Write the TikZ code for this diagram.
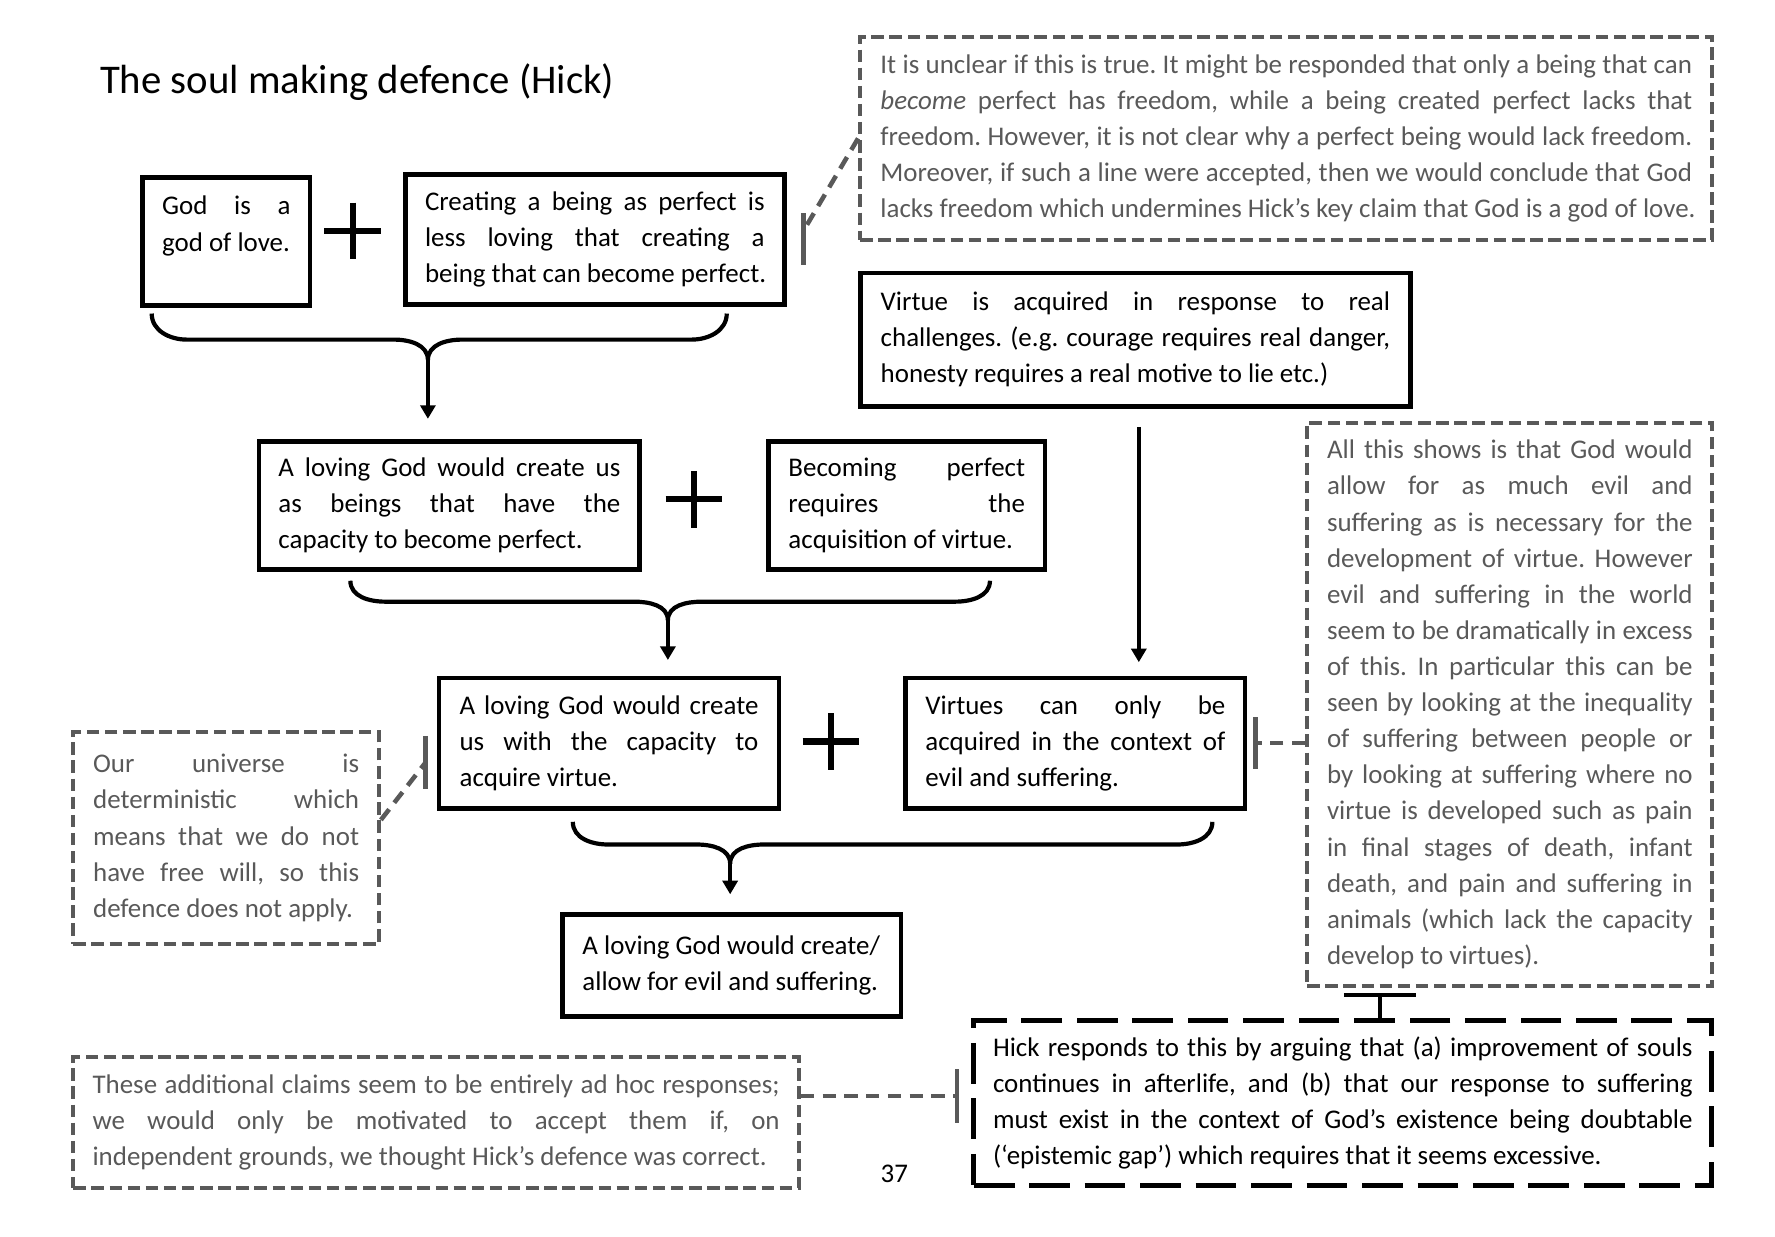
\documentclass[tikz,border=0pt]{standalone}
\usepackage{fontspec}
\setmainfont{Carlito}
\usetikzlibrary{arrows.meta,calc}
\definecolor{cg}{RGB}{89,89,89}
\frenchspacing
\newcommand\bodyfont{\fontsize{11.9pt}{15.95pt}\selectfont}
\newcommand\jline[2]{\makebox[#1][s]{\spaceskip=0pt\xspaceskip=0pt\frenchspacing\relax #2}}
\newcommand\lline[1]{\mbox{\spaceskip=0pt\xspaceskip=0pt\frenchspacing\relax #1}}
\newcommand\plussign[2]{\draw[plus] (#1-25,#2) -- (#1+25,#2) (#1,#2-25) -- (#1,#2+25);}
\begin{document}
\begin{tikzpicture}[x=0.5pt,y=-0.5pt,
  box/.style={draw=black, line width=2pt, inner sep=0pt, anchor=north west, align=left, font=\bodyfont},
  note/.style={draw=cg, text=cg, line width=1.75pt, dash pattern=on 5.5pt off 2.5pt, inner sep=0pt, anchor=north west, align=left, font=\bodyfont},
  hnote/.style={draw=black, line width=2.2pt, dash pattern=on 18pt off 6.5pt, inner sep=0pt, anchor=north west, align=left, font=\bodyfont},
  brace/.style={line width=1.85pt},
  arr/.style={line width=1.7pt, -{Triangle[width=6.6pt,length=6pt]}},
  gline/.style={draw=cg, line width=2pt, dash pattern=on 5.9pt off 3.7pt},
  gbar/.style={draw=cg, line width=2pt},
  tbar/.style={draw=black, line width=1.8pt},
  plus/.style={line width=2.75pt}
]
\useasboundingbox (0,0) rectangle (1568,1092);

% title
\node[anchor=base west, inner sep=0pt, font=\fontsize{18pt}{22pt}\selectfont] (title) at (88,82.5) {\lline{The soul making defence (Hick)}};

% boxes
\node[box, minimum width=74pt, minimum height=56.5pt, text width=56.8pt] (A) at (124,155)
 {\jline{56.8pt}{God is a}\\\lline{god of love.}\\\mbox{}};
\node[box, minimum width=167.5pt, minimum height=57.5pt, text width=150pt] (B) at (356,152)
 {\jline{150pt}{Creating a being as perfect is}\\\jline{150pt}{less loving that creating a}\\\lline{being that can become perfect.}};
\node[note, minimum width=376.5pt, minimum height=89.5pt, text width=358.5pt] (C1) at (758,31)
 {\jline{358.5pt}{It is unclear if this is true. It might be responded that only a being that can}\\
  \jline{358.5pt}{\emph{become} perfect has freedom, while a being created perfect lacks that}\\
  \jline{358.5pt}{freedom. However, it is not clear why a perfect being would lack freedom.}\\
  \jline{358.5pt}{Moreover, if such a line were accepted, then we would conclude that God}\\
  \lline{lacks freedom which undermines Hick’s key claim that God is a god of love.}};
\node[box, minimum width=243pt, minimum height=59pt, text width=225pt] (D) at (758,239)
 {\jline{225pt}{Virtue is acquired in response to real}\\\jline{225pt}{challenges. (e.g. courage requires real danger,}\\\lline{honesty requires a real motive to lie etc.)}};
\node[box, minimum width=168pt, minimum height=56.5pt, text width=151pt] (E) at (227,388)
 {\jline{151pt}{A loving God would create us}\\\jline{151pt}{as beings that have the}\\\lline{capacity to become perfect.}};
\node[box, minimum width=122pt, minimum height=56.5pt, text width=104.5pt] (F) at (677,388)
 {\jline{104.5pt}{Becoming perfect}\\\jline{104.5pt}{requires the}\\\lline{acquisition of virtue.}};
\node[note, minimum width=179pt, minimum height=248.5pt, text width=161.5pt] (C2) at (1153,372)
 {\jline{161.5pt}{All this shows is that God would}\\
  \jline{161.5pt}{allow for as much evil and}\\
  \jline{161.5pt}{suffering as is necessary for the}\\
  \jline{161.5pt}{development of virtue. However}\\
  \jline{161.5pt}{evil and suffering in the world}\\
  \jline{161.5pt}{seem to be dramatically in excess}\\
  \jline{161.5pt}{of this. In particular this can be}\\
  \jline{161.5pt}{seen by looking at the inequality}\\
  \jline{161.5pt}{of suffering between people or}\\
  \jline{161.5pt}{by looking at suffering where no}\\
  \jline{161.5pt}{virtue is developed such as pain}\\
  \jline{161.5pt}{in final stages of death, infant}\\
  \jline{161.5pt}{death, and pain and suffering in}\\
  \jline{161.5pt}{animals (which lack the capacity}\\
  \lline{develop to virtues).}};
\node[box, minimum width=150pt, minimum height=57.5pt, text width=132pt] (G) at (386,597)
 {\jline{132pt}{A loving God would create}\\\jline{132pt}{us with the capacity to}\\\lline{acquire virtue.}};
\node[box, minimum width=150pt, minimum height=57.5pt, text width=132.5pt] (H) at (798,597)
 {\jline{132.5pt}{Virtues can only be}\\\jline{132.5pt}{acquired in the context of}\\\lline{evil and suffering.}};
\node[note, minimum width=135pt, minimum height=93.5pt, text width=117.5pt] (C3) at (63,645)
 {\jline{117.5pt}{Our universe is}\\\jline{117.5pt}{deterministic which}\\\jline{117.5pt}{means that we do not}\\\jline{117.5pt}{have free will, so this}\\\lline{defence does not apply.}};
\node[box, minimum width=149.5pt, minimum height=45pt, text width=132pt] (I) at (495,806)
 {\lline{A loving God would create/}\\\lline{allow for evil and suffering.}};
\node[hnote, minimum width=326pt, minimum height=73pt, text width=309pt] (J) at (858,899)
 {\jline{309pt}{Hick responds to this by arguing that (a) improvement of souls}\\
  \jline{309pt}{continues in afterlife, and (b) that our response to suffering}\\
  \jline{309pt}{must exist in the context of God’s existence being doubtable}\\
  \lline{(‘epistemic gap’) which requires that it seems excessive.}};
\node[note, minimum width=320.5pt, minimum height=58pt, text width=303.5pt] (C4) at (63,932)
 {\jline{303.5pt}{These additional claims seem to be entirely ad hoc responses;}\\
  \jline{303.5pt}{we would only be motivated to accept them if, on}\\
  \lline{independent grounds, we thought Hick’s defence was correct.}};

\node[anchor=base, inner sep=0pt, font=\bodyfont] (pg) at (790,1045) {37};

% plus signs
\plussign{311.5}{204}
\plussign{613}{441}
\plussign{734}{655}

% braces
\coordinate (k1) at (378,318);
\draw[brace] (134,277) to[out=-90,in=180] (165,300) -- (348,300) to[out=0,in=90] (k1)
  to[out=90,in=180] (408,300) -- (611,300) to[out=0,in=-90] (642,277);
\draw[arr, shorten >=9pt] (k1) -- (E.north -| k1);

\coordinate (k2) at (590,548);
\draw[brace] (309.5,513) to[out=-90,in=180] (340.5,531.5) -- (560,531.5) to[out=0,in=90] (k2)
  to[out=90,in=180] (620,531.5) -- (843.5,531.5) to[out=0,in=-90] (874.5,513);
\draw[arr, shorten >=7pt] (k2) -- (G.north -| k2);

\coordinate (k3) at (645,763);
\draw[brace] (506,726) to[out=-90,in=180] (537,746) -- (615,746) to[out=0,in=90] (k3)
  to[out=90,in=180] (675,746) -- (1040,746) to[out=0,in=-90] (1071,726);
\draw[arr, shorten >=8pt] (k3) -- (I.north -| k3);

% vertical arrow D -> H
\coordinate (vx) at (1006,0);
\draw[arr, line width=1.55pt, shorten <=8pt, shorten >=6pt] (D.south -| vx) -- (H.north -| vx);

% gray connectors with tee ends
\coordinate (t1) at ([xshift=7.5pt]B.east);
\draw[gline] (C1.west) -- ([yshift=4pt]t1);
\draw[gbar] ([yshift=11.5pt]t1) -- ([yshift=-11.5pt]t1);

\coordinate (t3) at ([xshift=-5pt,yshift=-8.5pt]G.west);
\draw[gline] ([yshift=8pt]C3.east) -- (t3);
\draw[gbar] ([yshift=11.75pt]t3) -- ([yshift=-11.75pt]t3);

\coordinate (t2) at ([xshift=3.5pt]H.east);
\draw[gline] (t2 -| C2.west) -- (t2);
\draw[gbar] ([yshift=11.5pt]t2) -- ([yshift=-11.5pt]t2);

\coordinate (t5) at ([xshift=-6.3pt,yshift=3pt]J.west);
\draw[gline] (t5 -| C4.east) -- (t5);
\draw[gbar] ([yshift=11.75pt]t5) -- ([yshift=-11.75pt]t5);

% black tee from J to C2
\coordinate (t4) at ([xshift=16.5pt,yshift=10pt]J.north);
\draw[tbar] (J.north -| t4) -- (t4);
\draw[tbar] ([xshift=-16pt]t4) -- ([xshift=16pt]t4);
\end{tikzpicture}
\end{document}
